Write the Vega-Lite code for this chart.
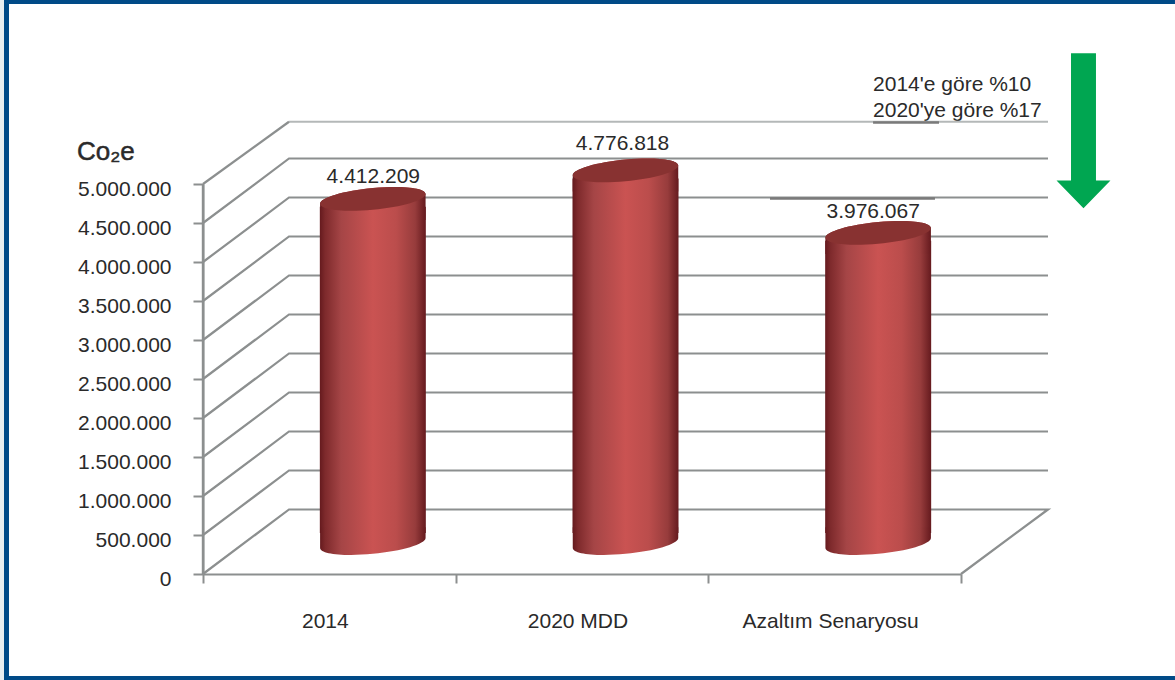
{
"$schema":"https://vega.github.io/schema/vega-lite/v6.json",
"width":758,"height":390,
"autosize":{"type":"none"},
"padding":{"left":203,"top":184,"right":214,"bottom":106},
"background":"#ffffff",
"config":{"view":{"stroke":null},"text":{"font":"Liberation Sans","fontSize":21,"color":"#2a2a2a"}},
"encoding":{
  "x":{"type":"quantitative","scale":{"domain":[0,3],"nice":false,"zero":false,"padding":0},
   "axis":{"title":null,"values":[0,1,2,3],"labels":false,"tickSize":9,"tickWidth":2,"tickColor":"#8c8f8f","domainColor":"#8c8f8f","domainWidth":2,"grid":false}},
  "y":{"type":"quantitative","scale":{"domain":[0,5000000],"nice":false,"zero":false,"padding":0},
   "axis":{"title":null,"values":[0,500000,1000000,1500000,2000000,2500000,3000000,3500000,4000000,4500000,5000000],
    "labelExpr":"replace(format(datum.value,','),/,/g,'.')","labelOverlap":false,"labelBound":false,"labelFlush":false,"labelOffset":5,
    "domain":true,"ticks":true,
    "labelFont":"Liberation Sans","labelFontSize":21,"labelColor":"#2a2a2a","labelPadding":22,"tickSize":10,"tickWidth":2,"tickColor":"#8c8f8f","domainColor":"#8c8f8f","domainWidth":2,"grid":false}}
},
"datasets":{
"bars":[
{"cat":"2014","pos":0.5,"value":4412209,"label":"4.412.209"},
{"cat":"2020 MDD","pos":1.5,"value":4776818,"label":"4.776.818"},
{"cat":"Azaltım Senaryosu","pos":2.5,"value":3976067,"label":"3.976.067"}],
"frame":[
{"part":"top","x0":-0.7876,"x1":3.8469,"y0":7307692,"y1":7358974},
{"part":"left","x0":-0.7876,"x1":-0.7678,"y0":-1358974,"y1":7358974},
{"part":"bottom","x0":-0.7876,"x1":3.8469,"y0":-1358974,"y1":-1307692}],
"grid":[
{"s":"0","x":0,"y":0},{"s":"0","x":0.3404,"y":827000},{"s":"0","x":3.3443,"y":827000},{"s":"0","x":3,"y":0},
{"s":"1","x":0,"y":500000},{"s":"1","x":0.3404,"y":1327000},{"s":"1","x":3.3443,"y":1327000},
{"s":"2","x":0,"y":1000000},{"s":"2","x":0.3404,"y":1827000},{"s":"2","x":3.3443,"y":1827000},
{"s":"3","x":0,"y":1500000},{"s":"3","x":0.3404,"y":2327000},{"s":"3","x":3.3443,"y":2327000},
{"s":"4","x":0,"y":2000000},{"s":"4","x":0.3404,"y":2827000},{"s":"4","x":3.3443,"y":2827000},
{"s":"5","x":0,"y":2500000},{"s":"5","x":0.3404,"y":3327000},{"s":"5","x":3.3443,"y":3327000},
{"s":"6","x":0,"y":3000000},{"s":"6","x":0.3404,"y":3827000},{"s":"6","x":3.3443,"y":3827000},
{"s":"7","x":0,"y":3500000},{"s":"7","x":0.3404,"y":4327000},{"s":"7","x":3.3443,"y":4327000},
{"s":"8","x":0,"y":4000000},{"s":"8","x":0.3404,"y":4827000},{"s":"8","x":3.3443,"y":4827000},
{"s":"9","x":0,"y":4500000},{"s":"9","x":0.3404,"y":5327000},{"s":"9","x":3.3443,"y":5327000},
{"s":"d","x":0,"y":5000000},{"s":"d","x":0.3404,"y":5798000}],
"wall":[{"x":0,"y":0},{"x":0,"y":5000000}],
"top":[{"s":"t","x":0.3404,"y":5798000},{"s":"t","x":3.3443,"y":5798000}],
"marks":[
{"s":"a","x":2.652,"y":5788000},{"s":"a","x":2.913,"y":5788000},
{"s":"b","x":2.244,"y":4814000},{"s":"b","x":2.897,"y":4814000}],
"notes":[
{"t":"2014'e göre %10","x":2.652,"y":6269000},
{"t":"2020'ye göre %17","x":2.652,"y":5936000}]
},
"layer":[
{"data":{"name":"frame"},
 "mark":{"type":"rect","color":"#004a87"},
 "encoding":{"x":{"field":"x0"},"x2":{"field":"x1"},"y":{"field":"y0"},"y2":{"field":"y1"}}},
{"data":{"values":[{"x0":-0.8034,"x1":-0.7876,"y0":-1358974,"y1":7358974}]},
 "mark":{"type":"rect","color":"#e9eef0"},
 "encoding":{"x":{"field":"x0"},"x2":{"field":"x1"},"y":{"field":"y0"},"y2":{"field":"y1"}}},
{"data":{"name":"notes"},
 "mark":{"type":"text","align":"left","baseline":"middle"},
 "encoding":{"x":{"field":"x"},"y":{"field":"y"},"text":{"field":"t"}}},
{"data":{"name":"top"},
 "mark":{"type":"line","color":"#b4b8b8","strokeWidth":2},
 "encoding":{"x":{"field":"x"},"y":{"field":"y"},"detail":{"field":"s"}}},
{"data":{"name":"grid"},
 "mark":{"type":"line","color":"#8c8f8f","strokeWidth":2.2},
 "encoding":{"x":{"field":"x"},"y":{"field":"y"},"detail":{"field":"s"},"order":{"field":"s"}}},
{"data":{"name":"wall"},
 "mark":{"type":"line","color":"#8c8f8f","strokeWidth":2.4,"orient":"vertical"},
 "encoding":{"x":{"field":"x"},"y":{"field":"y"}}},
{"data":{"name":"marks"},
 "mark":{"type":"line","color":"#7a7a7a","strokeWidth":2.5},
 "encoding":{"x":{"field":"x"},"y":{"field":"y"},"detail":{"field":"s"}}},
{"data":{"name":"bars"},
 "mark":{"type":"bar","orient":"vertical","width":106,"xOffset":43.5,"yOffset":-23,"y2Offset":-41,
  "fill":{"gradient":"linear","x1":0,"x2":1,"y1":0,"y2":0,"stops":[
   {"offset":0,"color":"#651a1e"},{"offset":0.05,"color":"#7e2a2c"},{"offset":0.2,"color":"#a54546"},{"offset":0.5,"color":"#ca5352"},{"offset":0.72,"color":"#bb4d4c"},{"offset":0.9,"color":"#973c3c"},{"offset":1,"color":"#651a1e"}]}},
 "encoding":{"x":{"field":"pos"},"y":{"field":"value"},"y2":{"datum":0}}},
{"data":{"name":"bars"},
 "mark":{"type":"point","filled":true,"opacity":1,"size":11130,"xOffset":43.5,"yOffset":-31,
  "shape":"M-1,-.3 L-1,.0935 C-1,.2073 -.5523,.2576 0,.206 C.5523,.1544 1,.0203 1,-.0935 L1,-.3Z",
  "fill":{"gradient":"linear","x1":0,"x2":1,"y1":0,"y2":0,"stops":[
   {"offset":0,"color":"#651a1e"},{"offset":0.05,"color":"#7e2a2c"},{"offset":0.2,"color":"#a54546"},{"offset":0.5,"color":"#ca5352"},{"offset":0.72,"color":"#bb4d4c"},{"offset":0.9,"color":"#973c3c"},{"offset":1,"color":"#651a1e"}]}},
 "encoding":{"x":{"field":"pos"},"y":{"datum":0}}},
{"data":{"name":"bars"},
 "mark":{"type":"point","filled":true,"opacity":1,"size":11130,"xOffset":43.5,"yOffset":-31,
  "shape":"M-1,.0935 C-1,-.0203 -.5523,-.1544 0,-.206 C.5523,-.2576 1,-.2073 1,-.0935 L1,.4 L-1,.4Z",
  "fill":{"gradient":"linear","x1":0,"x2":1,"y1":0,"y2":0,"stops":[
   {"offset":0,"color":"#651a1e"},{"offset":0.05,"color":"#7e2a2c"},{"offset":0.2,"color":"#a54546"},{"offset":0.5,"color":"#ca5352"},{"offset":0.72,"color":"#bb4d4c"},{"offset":0.9,"color":"#973c3c"},{"offset":1,"color":"#651a1e"}]}},
 "encoding":{"x":{"field":"pos"},"y":{"field":"value"}}},
{"data":{"name":"bars"},
 "mark":{"type":"point","filled":true,"opacity":1,"size":11130,"xOffset":43.5,"yOffset":-31,"fill":"#883231",
  "shape":"M1,-.0935 C1,.0203 .5523,.1544 0,.206 C-.5523,.2576 -1,.2073 -1,.0935 C-1,-.0203 -.5523,-.1544 0,-.206 C.5523,-.2576 1,-.2073 1,-.0935Z"},
 "encoding":{"x":{"field":"pos"},"y":{"field":"value"}}},
{"data":{"name":"bars"},
 "mark":{"type":"text","baseline":"middle",
  "dx":{"expr":"datum.pos<1?44:(datum.pos<2?40.5:38.5)"},
  "dy":{"expr":"datum.pos<1?-52.5:(datum.pos<2?-57.4:-52)"}},
 "encoding":{"x":{"field":"pos"},"y":{"field":"value"},"text":{"field":"label"}}},
{"data":{"name":"bars"},
 "mark":{"type":"text","baseline":"middle","dx":-4},
 "encoding":{"x":{"field":"pos"},"y":{"datum":-620000},"text":{"field":"cat"}}},
{"data":{"values":[{"t":"Co₂e","x":-0.4987,"y":5410000}]},
 "mark":{"type":"text","align":"left","baseline":"middle","fontSize":26,"stroke":"#2a2a2a","strokeWidth":0.5},
 "encoding":{"x":{"field":"x"},"y":{"field":"y"},"text":{"field":"t"}}},
{"data":{"values":[{"x":3.4848,"y":5684000}]},
 "mark":{"type":"point","filled":true,"opacity":1,"size":24025,"fill":"#00a651",
  "shape":"M-.161,-1 L.161,-1 L.161,.644 L.348,.644 L0,1 L-.348,.644 L-.161,.644Z"},
 "encoding":{"x":{"field":"x"},"y":{"field":"y"}}}
]
}
